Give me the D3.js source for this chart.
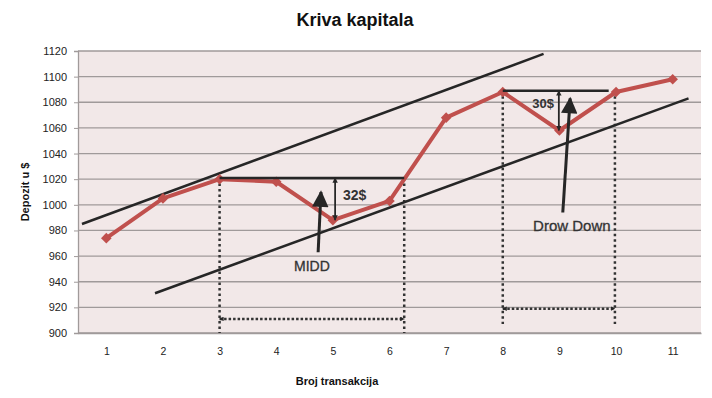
<!DOCTYPE html>
<html>
<head>
<meta charset="utf-8">
<script src="https://cdn.jsdelivr.net/npm/d3@7"></script>
<style>
  body { margin: 0; background: #fff; }
  text { font-family: "Liberation Sans", Arial, sans-serif; }
</style>
</head>
<body>
<div id="chart"></div>
<script>
// trade number and account balance after it
var trades = [1, 2, 3, 4, 5, 6, 7, 8, 9, 10, 11];
var deposit = [974, 1005, 1020, 1018, 988, 1003, 1068, 1088, 1058, 1088, 1098];
var yTicks = [900, 920, 940, 960, 980, 1000, 1020, 1040, 1060, 1080, 1100, 1120];

// channel lines, [trade, deposit] end points
var upperChannel = [[0.57, 985], [8.72, 1117.7]];
var lowerChannel = [[1.86, 931], [11.28, 1083]];

// drawdown 1 (MIDD)
var peak1 = [[3, 1021], [6.26, 1021]];
var drop1 = [[5.04, 1021], [5.04, 988]];
var box1 = { x0: 3, x1: 6.26, top: 1021, bottom: 900, base: 911 };
var middArrow = [[4.74, 963], [4.79, 1010]];

// drawdown 2 (Drow Down)
var peak2 = [[8, 1089], [9.87, 1089]];
var drop2 = [[8.99, 1089], [8.99, 1058]];
var box2 = { x0: 8, x1: 9.98, top: 1089, bottom: 907, base: 919 };
var ddArrow = [[9.06, 994], [9.19, 1083]];

var margin = { top: 51, right: 11, bottom: 65, left: 78 };
var width = 712 - margin.left - margin.right;
var height = 398 - margin.top - margin.bottom;

var svg = d3.select("#chart")
    .append("svg")
    .attr("width", 712)
    .attr("height", 398);

var defs = svg.append("defs");
function marker(id, w, h, orient) {
    defs.append("marker")
        .attr("id", id)
        .attr("viewBox", "0 0 10 10")
        .attr("refX", 9).attr("refY", 5)
        .attr("markerWidth", w).attr("markerHeight", h)
        .attr("markerUnits", "strokeWidth")
        .attr("orient", orient)
        .append("path").attr("d", "M0,0L10,5L0,10z").attr("fill", "#262626");
}
marker("small", 3, 3, "auto-start-reverse");
marker("tiny", 1.8, 1.8, "auto-start-reverse");
marker("big", 6.5, 5.5, "auto");

var g = svg.append("g")
    .attr("transform", `translate(${margin.left}, ${margin.top})`);

var x = d3.scaleLinear()
    .domain([0.5, 11.5])
    .range([0, width]);

var y = d3.scaleLinear()
    .domain([900, 1120])
    .range([height, 0]);

// plot background
g.append("rect")
    .attr("width", width)
    .attr("height", height)
    .attr("fill", "#f2e8e8");

// gridlines
g.selectAll(".grid")
    .data(yTicks)
    .enter()
    .append("line")
    .attr("x1", 0).attr("x2", width)
    .attr("y1", d => y(d)).attr("y2", d => y(d))
    .attr("stroke", "#a09a9a")
    .attr("stroke-width", 1.3);

// axes
var yAxis = g.append("g")
    .call(d3.axisLeft(y).tickValues(yTicks).tickSize(4).tickPadding(7).tickFormat(d3.format("d")));
yAxis.select(".domain").attr("stroke", "#a09a9a").attr("stroke-width", 1.3);
yAxis.selectAll("line").attr("stroke", "#a09a9a");
yAxis.selectAll("text").attr("font-size", 11).attr("fill", "#222")
    .style("font-family", "'Liberation Sans', Arial, sans-serif");

var xAxis = g.append("g")
    .attr("transform", `translate(0, ${height})`)
    .call(d3.axisBottom(x).tickValues(trades).tickSize(0).tickPadding(15));
xAxis.select(".domain").attr("stroke", "#a09a9a").attr("stroke-width", 1.3);
xAxis.selectAll("text").attr("font-size", 10.5).attr("fill", "#222")
    .style("font-family", "'Liberation Sans', Arial, sans-serif");

var line = d3.line()
    .x(d => x(d[0]))
    .y(d => y(d[1]));

// dotted boxes
[box1, box2].forEach(function (b) {
    g.append("path")
        .attr("d", line([[b.x0, b.top], [b.x0, b.bottom]]))
        .attr("stroke", "#333").attr("stroke-width", 2.5)
        .attr("stroke-dasharray", "2.5,3").attr("fill", "none");
    g.append("path")
        .attr("d", line([[b.x1, b.top], [b.x1, b.bottom]]))
        .attr("stroke", "#333").attr("stroke-width", 2.5)
        .attr("stroke-dasharray", "2.5,3").attr("fill", "none");
    g.append("path")
        .attr("d", line([[b.x0, b.base], [b.x1, b.base]]))
        .attr("stroke", "#333").attr("stroke-width", 2.5)
        .attr("stroke-dasharray", "2.5,2").attr("fill", "none")
        .attr("marker-start", "url(#tiny)")
        .attr("marker-end", "url(#tiny)");
});

// channel lines
[upperChannel, lowerChannel].forEach(function (c) {
    g.append("path")
        .attr("d", line(c))
        .attr("stroke", "#262626").attr("stroke-width", 2.5).attr("fill", "none");
});

// equity curve
g.append("path")
    .datum(trades.map((t, i) => [t, deposit[i]]))
    .attr("d", line)
    .attr("fill", "none")
    .attr("stroke", "#c0504d")
    .attr("stroke-width", 4)
    .attr("stroke-linejoin", "round");

g.selectAll(".pt")
    .data(trades)
    .enter()
    .append("path")
    .attr("d", d3.symbol().type(d3.symbolSquare).size(56))
    .attr("transform", (d, i) => `translate(${x(d)}, ${y(deposit[i])}) rotate(45)`)
    .attr("fill", "#c0504d");

// peak lines and drawdown arrows
[peak1, peak2].forEach(function (p) {
    g.append("path")
        .attr("d", line(p))
        .attr("stroke", "#262626").attr("stroke-width", 2.5).attr("fill", "none");
});
[drop1, drop2].forEach(function (p) {
    g.append("path")
        .attr("d", line(p))
        .attr("stroke", "#262626").attr("stroke-width", 1.8).attr("fill", "none")
        .attr("marker-start", "url(#small)")
        .attr("marker-end", "url(#small)");
});
[middArrow, ddArrow].forEach(function (p) {
    g.append("path")
        .attr("d", line(p))
        .attr("stroke", "#262626").attr("stroke-width", 3).attr("fill", "none")
        .attr("marker-end", "url(#big)");
});

// annotation labels
g.append("text")
    .attr("x", x(5.18)).attr("y", y(1007.7)).attr("dy", "0.35em")
    .attr("font-size", 14).attr("font-weight", "bold").attr("fill", "#333")
    .text("32$");
g.append("text")
    .attr("x", x(4.63)).attr("y", y(952.3)).attr("dy", "0.35em")
    .attr("text-anchor", "middle")
    .attr("font-size", 14).attr("fill", "#333")
    .attr("stroke", "#333").attr("stroke-width", 0.3)
    .text("MIDD");
g.append("text")
    .attr("x", x(8.52)).attr("y", y(1079.4)).attr("dy", "0.35em")
    .attr("font-size", 13).attr("font-weight", "bold").attr("fill", "#333")
    .text("30$");
g.append("text")
    .attr("x", x(9.22)).attr("y", y(983.5)).attr("dy", "0.35em")
    .attr("text-anchor", "middle")
    .attr("font-size", 15).attr("fill", "#333")
    .attr("stroke", "#333").attr("stroke-width", 0.3)
    .text("Drow Down");

// titles
svg.append("text")
    .attr("x", 355).attr("y", 26)
    .attr("text-anchor", "middle")
    .attr("font-size", 18).attr("font-weight", "bold").attr("fill", "#111")
    .text("Kriva kapitala");

svg.append("text")
    .attr("x", 337).attr("y", 385)
    .attr("text-anchor", "middle")
    .attr("font-size", 11).attr("font-weight", "bold").attr("fill", "#111")
    .text("Broj transakcija");

svg.append("text")
    .attr("transform", "translate(29, 192) rotate(-90)")
    .attr("text-anchor", "middle")
    .attr("font-size", 11).attr("font-weight", "bold").attr("fill", "#111")
    .text("Depozit u $");
</script>
</body>
</html>
